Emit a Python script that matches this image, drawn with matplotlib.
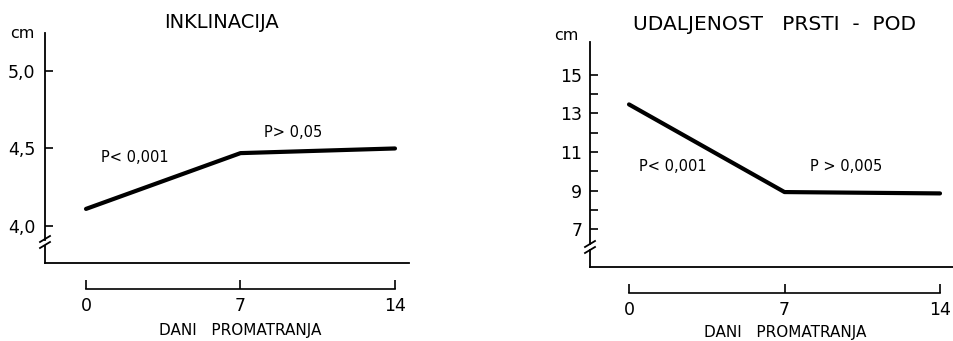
import matplotlib.pyplot as plt
from matplotlib.lines import Line2D

days = [0, 7, 14]
day_labels = ["0", "7", "14"]

inklinacija = [4.11, 4.47, 4.50]
inkl_ticks = [4.0, 4.5, 5.0]
inkl_ticklabels = ["4,0", "4,5", "5,0"]

udaljenost = [13.47, 8.92, 8.85]
udalj_ticks = [7, 9, 11, 13, 15]
udalj_minor = [8, 10, 12, 14]

W, H = 954, 341
fig = plt.figure(figsize=(W / 100, H / 100), dpi=100)
plt.rcParams['font.family'] = 'DejaVu Sans'


def px(x, y):
    # pixel (from top-left) -> figure fraction
    return x / W, 1 - y / H


def fig_line(x0, y0, x1, y1, lw=1.3):
    a, b = px(x0, y0)
    c, d = px(x1, y1)
    fig.add_artist(Line2D([a, c], [b, d], color="black", lw=lw,
                          transform=fig.transFigure))


def make_axes(left, right, top, bottom, xlim, ylim):
    ax = fig.add_axes([left / W, 1 - bottom / H, (right - left) / W, (bottom - top) / H])
    ax.set_xlim(*xlim)
    ax.set_ylim(*ylim)
    for s in ["top", "right", "left"]:
        ax.spines[s].set_visible(False)
    ax.spines["bottom"].set_position(("outward", 18.7))
    ax.spines["bottom"].set_bounds(0, 14)
    ax.spines["bottom"].set_linewidth(1.2)
    ax.set_xticks(days)
    ax.set_xticklabels(day_labels, fontsize=12.5)
    ax.tick_params(axis="x", direction="in", length=6.5, width=1.2, pad=6)
    ax.tick_params(axis="y", direction="in", length=6, width=1.2, labelsize=12.5)
    ax.patch.set_alpha(0)
    # x axis line at the bottom of the plot
    ax.plot([0, 1], [0, 0], color="black", lw=1.3, transform=ax.transAxes, clip_on=False)
    return ax


# ---- left chart: INKLINACIJA
ax1 = make_axes(45, 409, 33, 263, (-1.858, 14.635), (3.761, 5.245))
ax1.plot(days, inklinacija, color="black", lw=3, solid_capstyle="round")
ax1.set_yticks(inkl_ticks)
ax1.set_yticklabels(inkl_ticklabels)
ax1.tick_params(axis="y", pad=7)
ax1.text(2.2, 4.44, "P< 0,001", fontsize=10.5, ha="center", va="center")
ax1.text(9.4, 4.60, "P> 0,05", fontsize=10.5, ha="center", va="center")

fig_line(45, 33, 45, 240)
fig_line(45, 246, 45, 263)
fig_line(40, 242, 50, 236)
fig_line(40, 248, 50, 242)

x, y = px(222, 22)
fig.text(x, y, "INKLINACIJA", fontsize=14, ha="center", va="center")
x, y = px(22, 33)
fig.text(x, y, "cm", fontsize=11.5, ha="center", va="center")
x, y = px(240, 330)
fig.text(x, y, "DANI   PROMATRANJA", fontsize=11, ha="center", va="center")

# ---- right chart: UDALJENOST PRSTI - POD
ax2 = make_axes(590, 954, 42, 267, (-1.756, 14.63), (5.03, 16.71))
ax2.plot(days, udaljenost, color="black", lw=3, solid_capstyle="round")
ax2.set_yticks(udalj_ticks)
ax2.set_yticks(udalj_minor, minor=True)
ax2.tick_params(axis="y", which="minor", direction="in", length=6, width=1.2)
ax2.tick_params(axis="y", pad=5.5)
ax2.text(1.98, 10.27, "P< 0,001", fontsize=10.5, ha="center", va="center")
ax2.text(9.77, 10.27, "P > 0,005", fontsize=10.5, ha="center", va="center")

fig_line(590, 42, 590, 244)
fig_line(590, 250, 590, 267)
fig_line(585, 247, 595, 241)
fig_line(585, 253, 595, 247)

x, y = px(775, 25)
fig.text(x, y, "UDALJENOST   PRSTI  -  POD", fontsize=14.5, ha="center", va="center")
x, y = px(566, 36)
fig.text(x, y, "cm", fontsize=11.5, ha="center", va="center")
x, y = px(785, 333)
fig.text(x, y, "DANI   PROMATRANJA", fontsize=11, ha="center", va="center")

fig.savefig("out.png", dpi=100)
